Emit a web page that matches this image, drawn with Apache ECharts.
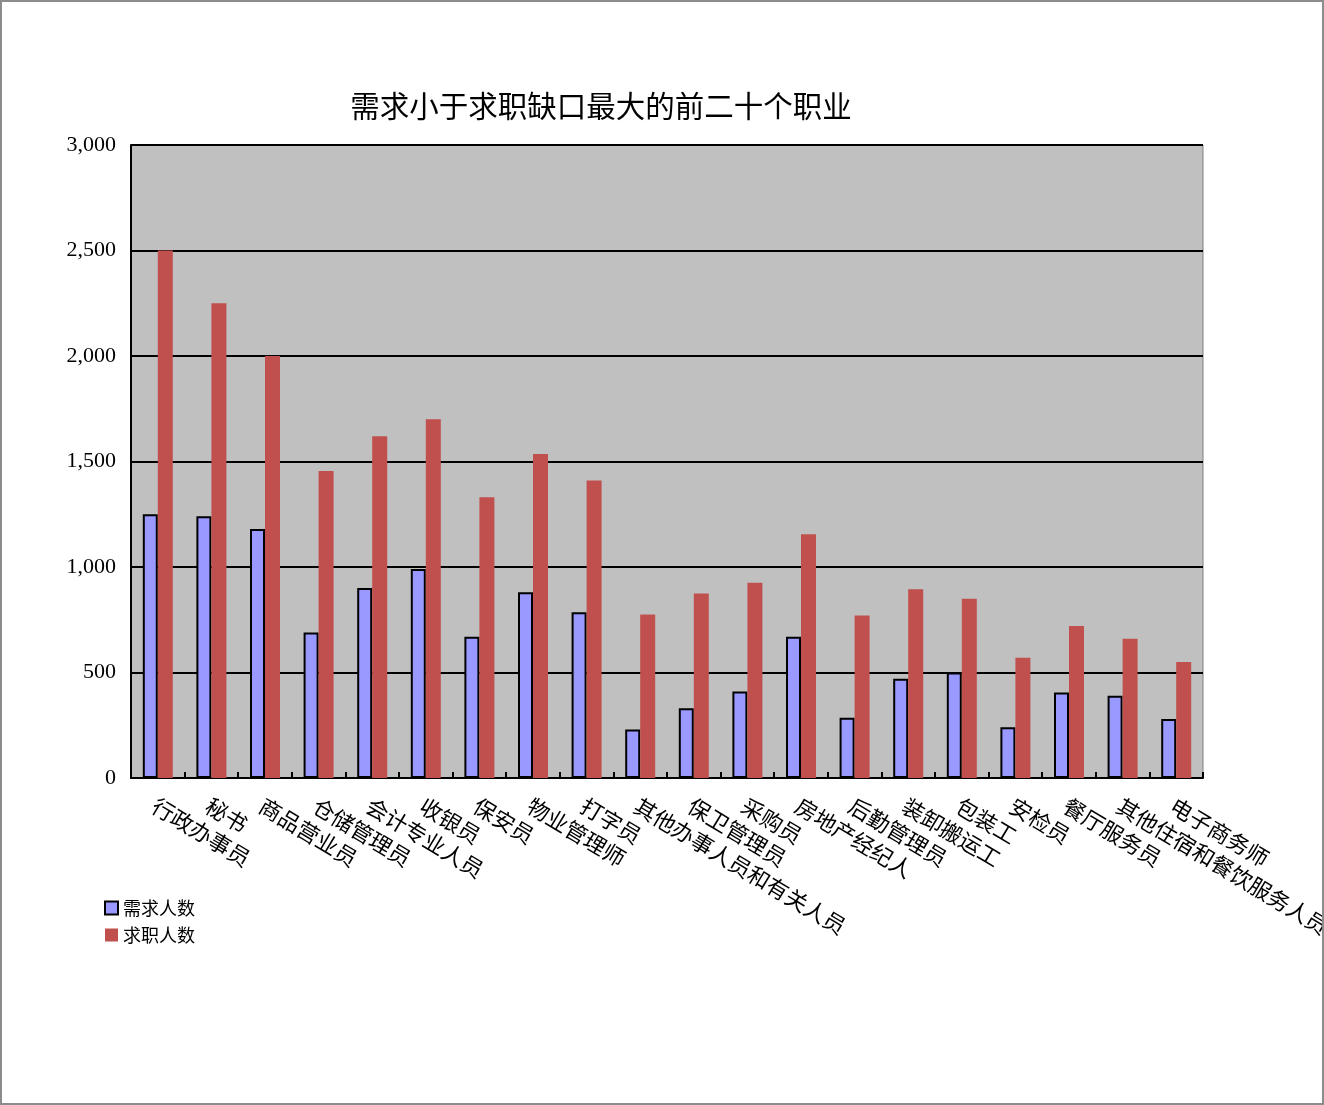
<!DOCTYPE html>
<html><head><meta charset="utf-8">
<script src="https://cdn.jsdelivr.net/npm/echarts@6/dist/echarts.min.js"></script>
<style>
html,body{margin:0;padding:0;background:#fff;}
#wrap{position:relative;width:1324px;height:1105px;overflow:hidden;}
#c{position:absolute;left:0;top:0;width:1324px;height:1105px;}
#frame{position:absolute;left:0;top:0;width:1324px;height:1105px;box-sizing:border-box;border:2px solid #8c8c8c;pointer-events:none;}
</style></head>
<body><div id="wrap"><div id="c"></div><div id="frame"></div></div>
<script>
const categories = ['行政办事员','秘书','商品营业员','仓储管理员','会计专业人员','收银员','保安员','物业管理师','打字员','其他办事人员和有关人员','保卫管理员','采购员','房地产经纪人','后勤管理员','装卸搬运工','包装工','安检员','餐厅服务员','其他住宿和餐饮服务人员','电子商务师'];
const demand = [1250,1240,1180,690,900,990,670,880,785,230,330,410,670,285,470,500,240,405,390,280];
const seekers = [2500,2250,2000,1455,1620,1700,1330,1535,1410,775,875,925,1155,770,895,850,570,720,660,550];
const yTicks = [0,500,1000,1500,2000,2500,3000];
const seriesNames = ['需求人数','求职人数'];
const titleText = '需求小于求职缺口最大的前二十个职业';

const chart = echarts.init(document.getElementById('c'));
const cjk = '"Noto Sans CJK SC", sans-serif';
chart.setOption({
  animation:false,
  backgroundColor:'#fff',
  title:{text:titleText,left:596,top:86,textAlign:'center',textStyle:{fontFamily:cjk,fontSize:29.5,fontWeight:'normal',color:'#000'}},
  legend:{orient:'vertical',left:99,top:894,itemWidth:13,itemHeight:13,itemGap:9,itemTextGap:7,icon:'rect',
    textStyle:{fontFamily:cjk,fontSize:18,color:'#000'},
    data:seriesNames},
  grid:{left:131,top:145,right:121,bottom:327,show:true,backgroundColor:'#c0c0c0',borderColor:'#808080',borderWidth:1,containLabel:false,outerBoundsMode:'none'},
  xAxis:{type:'category',data:categories,
    axisLine:{lineStyle:{color:'#000',width:2}},
    axisTick:{show:true,inside:true,length:6,lineStyle:{color:'#000',width:2}},
    axisLabel:{rotate:-31,interval:0,margin:6,verticalAlign:'top',padding:[8,0,0,7],fontFamily:cjk,fontSize:22,color:'#000'}},
  yAxis:{type:'value',min:yTicks[0],max:yTicks[yTicks.length-1],interval:500,
    axisLine:{show:true,lineStyle:{color:'#000',width:2}},
    axisTick:{show:true,inside:true,length:6,lineStyle:{color:'#000',width:2}},
    splitLine:{lineStyle:{color:'#000',width:2}},
    axisLabel:{margin:15,fontFamily:'"Liberation Serif", serif',fontSize:22,color:'#000',
      formatter:v=>v.toLocaleString('en-US')}},
  series:[
    {name:seriesNames[0],type:'bar',data:demand,barWidth:15,barGap:'0%',
     itemStyle:{color:'#9999ff',borderColor:'#000',borderWidth:2}},
    {name:seriesNames[1],type:'bar',data:seekers,barWidth:15,barGap:'0%',
     itemStyle:{color:'#c0504d'}}
  ]
});
</script></body></html>
